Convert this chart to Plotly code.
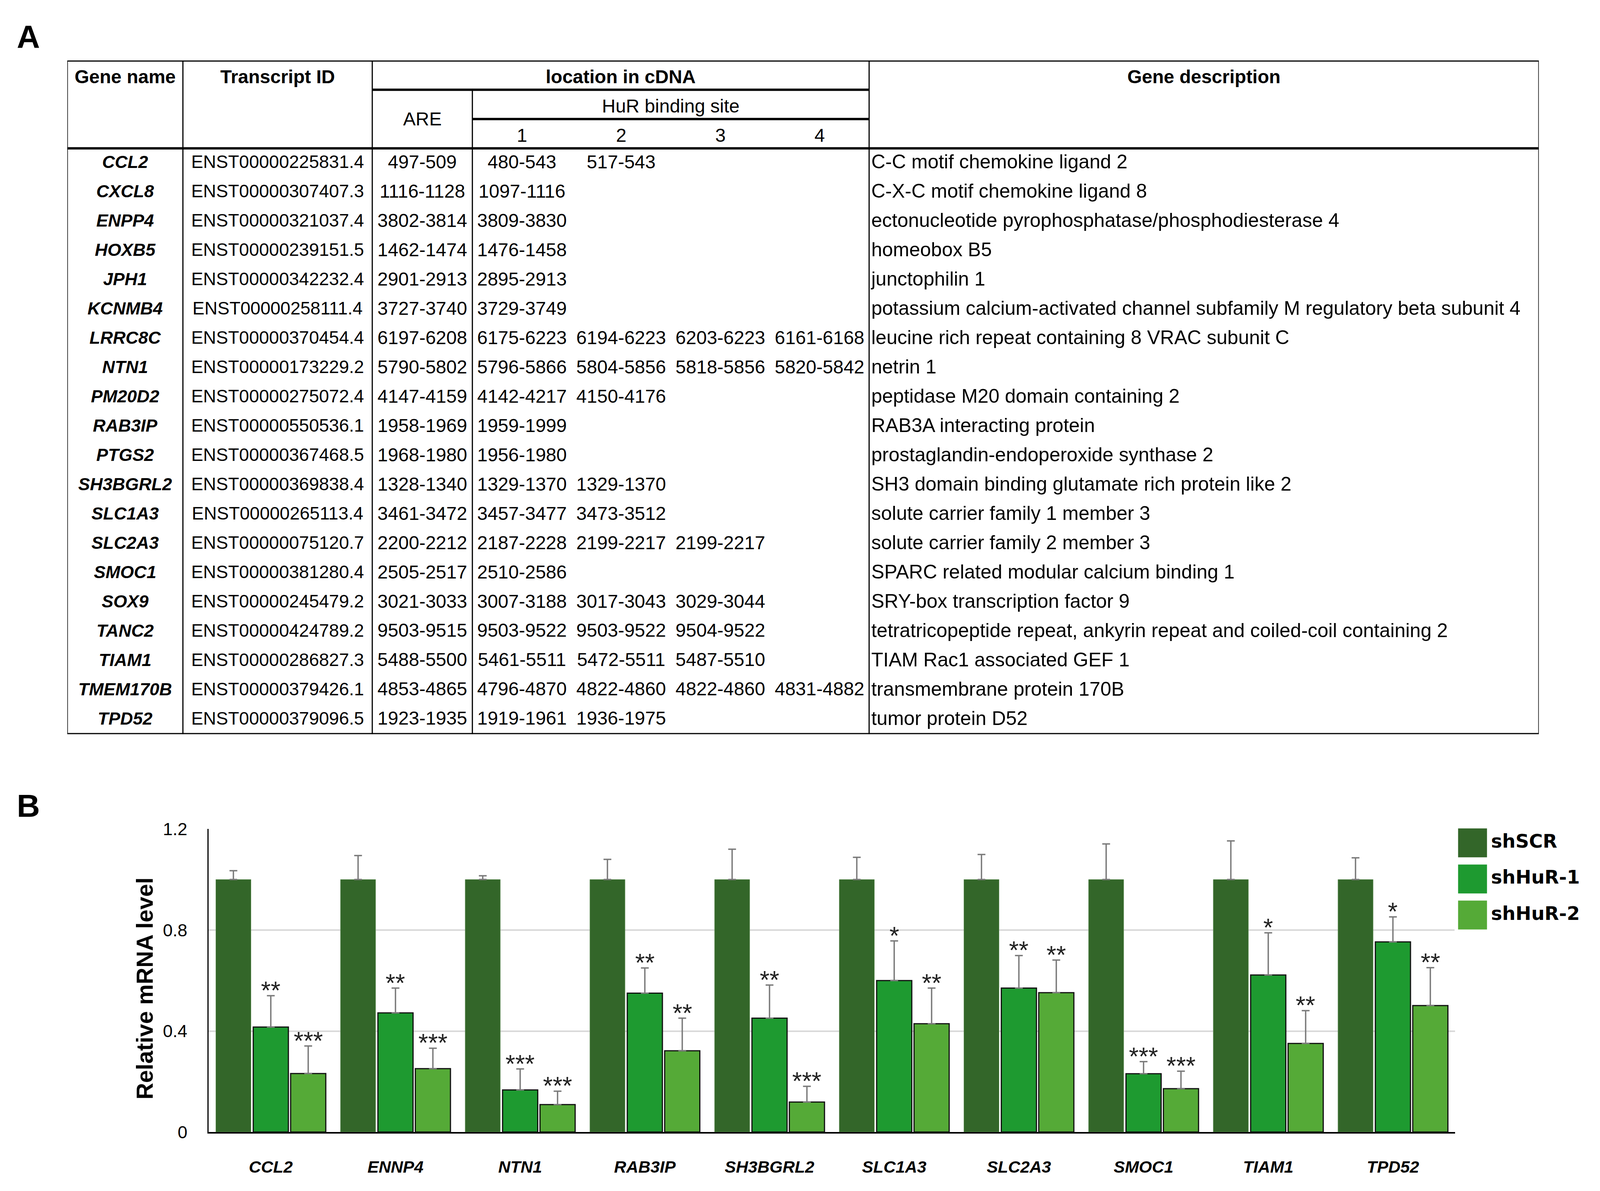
import plotly.graph_objects as go

# ---------------- Panel A : table data ----------------
TABLE_GENES = ["CCL2", "CXCL8", "ENPP4", "HOXB5", "JPH1", "KCNMB4", "LRRC8C", "NTN1",
               "PM20D2", "RAB3IP", "PTGS2", "SH3BGRL2", "SLC1A3", "SLC2A3", "SMOC1",
               "SOX9", "TANC2", "TIAM1", "TMEM170B", "TPD52"]
TRANSCRIPT_IDS = ["ENST00000225831.4", "ENST00000307407.3", "ENST00000321037.4",
                  "ENST00000239151.5", "ENST00000342232.4", "ENST00000258111.4",
                  "ENST00000370454.4", "ENST00000173229.2", "ENST00000275072.4",
                  "ENST00000550536.1", "ENST00000367468.5", "ENST00000369838.4",
                  "ENST00000265113.4", "ENST00000075120.7", "ENST00000381280.4",
                  "ENST00000245479.2", "ENST00000424789.2", "ENST00000286827.3",
                  "ENST00000379426.1", "ENST00000379096.5"]
ARE_SITES = ["497-509", "1116-1128", "3802-3814", "1462-1474", "2901-2913", "3727-3740",
             "6197-6208", "5790-5802", "4147-4159", "1958-1969", "1968-1980", "1328-1340",
             "3461-3472", "2200-2212", "2505-2517", "3021-3033", "9503-9515", "5488-5500",
             "4853-4865", "1923-1935"]
HUR_SITE_1 = ["480-543", "1097-1116", "3809-3830", "1476-1458", "2895-2913", "3729-3749",
              "6175-6223", "5796-5866", "4142-4217", "1959-1999", "1956-1980", "1329-1370",
              "3457-3477", "2187-2228", "2510-2586", "3007-3188", "9503-9522", "5461-5511",
              "4796-4870", "1919-1961"]
HUR_SITE_2 = ["517-543", "", "", "", "", "", "6194-6223", "5804-5856", "4150-4176", "", "",
              "1329-1370", "3473-3512", "2199-2217", "", "3017-3043", "9503-9522",
              "5472-5511", "4822-4860", "1936-1975"]
HUR_SITE_3 = ["", "", "", "", "", "", "6203-6223", "5818-5856", "", "", "", "", "",
              "2199-2217", "", "3029-3044", "9504-9522", "5487-5510", "4822-4860", ""]
HUR_SITE_4 = ["", "", "", "", "", "", "6161-6168", "5820-5842", "", "", "", "", "", "",
              "", "", "", "", "4831-4882", ""]
GENE_DESCRIPTIONS = [
    "C-C motif chemokine ligand 2",
    "C-X-C motif chemokine ligand 8",
    "ectonucleotide pyrophosphatase/phosphodiesterase 4",
    "homeobox B5",
    "junctophilin 1",
    "potassium calcium-activated channel subfamily M regulatory beta subunit 4",
    "leucine rich repeat containing 8 VRAC subunit C",
    "netrin 1",
    "peptidase M20 domain containing 2",
    "RAB3A interacting protein",
    "prostaglandin-endoperoxide synthase 2",
    "SH3 domain binding glutamate rich protein like 2",
    "solute carrier family 1 member 3",
    "solute carrier family 2 member 3",
    "SPARC related modular calcium binding 1",
    "SRY-box transcription factor 9",
    "tetratricopeptide repeat, ankyrin repeat and coiled-coil containing 2",
    "TIAM Rac1 associated GEF 1",
    "transmembrane protein 170B",
    "tumor protein D52",
]
HUR_SITE_LABELS = ["1", "2", "3", "4"]

# ---------------- Panel B : bar chart data ----------------
BAR_GENES = ["CCL2", "ENNP4", "NTN1", "RAB3IP", "SH3BGRL2", "SLC1A3", "SLC2A3",
             "SMOC1", "TIAM1", "TPD52"]
SERIES_NAMES = ["shSCR", "shHuR-1", "shHuR-2"]
SHSCR = [1.0, 1.0, 1.0, 1.0, 1.0, 1.0, 1.0, 1.0, 1.0, 1.0]
SHSCR_ERR = [0.035, 0.095, 0.015, 0.08, 0.12, 0.088, 0.099, 0.141, 0.153, 0.086]
SHHUR1 = [0.416, 0.472, 0.167, 0.55, 0.451, 0.60, 0.57, 0.231, 0.622, 0.753]
SHHUR1_ERR = [0.124, 0.098, 0.083, 0.10, 0.131, 0.157, 0.129, 0.048, 0.167, 0.099]
SHHUR2 = [0.232, 0.251, 0.109, 0.322, 0.119, 0.429, 0.552, 0.172, 0.351, 0.501]
SHHUR2_ERR = [0.109, 0.081, 0.053, 0.129, 0.062, 0.141, 0.129, 0.069, 0.13, 0.15]
SHHUR1_SIG = ["**", "**", "***", "**", "**", "*", "**", "***", "*", "*"]
SHHUR2_SIG = ["***", "***", "***", "**", "***", "**", "**", "***", "**", "**"]
SHSCR_SIG = [""] * 10
Y_TICKS = [0, 0.4, 0.8, 1.2]
Y_TICK_LABELS = ["0", "0.4", "0.8", "1.2"]

COLORS = ["#336629", "#1e9a30", "#55aa37"]

# the browser viewport is 4096 x 3049; positions below are measured on the
# 4444 x 3049 reference and used as paper fractions
REF_W, H = 4444, 3049
W = 4096
TXT = "Liberation Sans"

fig = go.Figure()

# ---------------- Table (axes x2 / y2) ----------------
COL_EDGES = [0, 321, 847, 1125, 2227, 4087]
N_HEAD = 3
N_ROWS = len(TABLE_GENES)
TOTAL_ROWS = N_HEAD + N_ROWS
sub_w = (COL_EDGES[4] - COL_EDGES[3]) / 4.0
row_y = [N_HEAD + i + 0.52 for i in range(N_ROWS)]

def col_center(a, b):
    return (COL_EDGES[a] + COL_EDGES[b]) / 2.0

def tf(size):
    return dict(family=TXT, size=size, color="black")

def text_col(x, texts, size, pos="middle center"):
    fig.add_trace(go.Scatter(x=[x] * N_ROWS, y=row_y, mode="text", text=texts,
                             textposition=pos, textfont=tf(size),
                             xaxis="x2", yaxis="y2", hoverinfo="skip"))

text_col(col_center(0, 1), ["<b><i>%s</i></b>" % g for g in TABLE_GENES], 45)
text_col(col_center(1, 2), TRANSCRIPT_IDS, 46)
text_col(col_center(2, 3), ARE_SITES, 48)
for k, site in enumerate([HUR_SITE_1, HUR_SITE_2, HUR_SITE_3, HUR_SITE_4]):
    text_col(COL_EDGES[3] + (k + 0.5) * sub_w, site, 48)
text_col(COL_EDGES[4] + 6, GENE_DESCRIPTIONS, 50, "middle right")

def head(x, y, t, size=48):
    fig.add_annotation(x=x, y=y, xref="x2", yref="y2", text=t, showarrow=False,
                       font=tf(size), xanchor="center", yanchor="middle")

head(col_center(0, 1), 0.55, "<b>Gene name</b>")
head(col_center(1, 2), 0.55, "<b>Transcript ID</b>")
head(col_center(2, 4), 0.55, "<b>location in cDNA</b>")
head(col_center(4, 5), 0.55, "<b>Gene description</b>")
head(col_center(2, 3), 2.0, "ARE")
head(col_center(3, 4), 1.55, "HuR binding site")
for k, lab in enumerate(HUR_SITE_LABELS):
    head(COL_EDGES[3] + (k + 0.5) * sub_w, 2.55, lab)

def hline(y, x0, x1, w=6):
    fig.add_shape(type="line", xref="x2", yref="y2", x0=x0, x1=x1, y0=y, y1=y,
                  line=dict(color="black", width=w))

def vline(x, y0, y1, w=3):
    fig.add_shape(type="line", xref="x2", yref="y2", x0=x, x1=x, y0=y0, y1=y1,
                  line=dict(color="black", width=w))

for i, xe in enumerate(COL_EDGES):
    vline(xe, 1 if i == 3 else 0, TOTAL_ROWS)
hline(0, COL_EDGES[0], COL_EDGES[-1])
hline(1, COL_EDGES[2], COL_EDGES[4])
hline(2, COL_EDGES[3], COL_EDGES[4])
hline(N_HEAD, COL_EDGES[0], COL_EDGES[-1])
hline(TOTAL_ROWS, COL_EDGES[0], COL_EDGES[-1])

# ---------------- Bar chart ----------------
idx = list(range(len(BAR_GENES)))
BAR_W = 0.282
PITCH = 0.30
offsets = [-PITCH, 0.0, PITCH]
series = [(SHSCR, SHSCR_ERR, SHSCR_SIG), (SHHUR1, SHHUR1_ERR, SHHUR1_SIG),
          (SHHUR2, SHHUR2_ERR, SHHUR2_SIG)]
for s, (vals, errs, sig) in enumerate(series):
    xs = [i + offsets[s] for i in idx]
    line = dict(color="#6f9a66", width=1) if s == 0 else dict(color="#111111", width=3)
    fig.add_trace(go.Bar(x=xs, y=vals, width=BAR_W, name=SERIES_NAMES[s],
                         marker=dict(color=COLORS[s], line=line),
                         error_y=dict(type="data", array=errs, arrayminus=[0] * len(errs),
                                      symmetric=False, color="#7a7a7a", thickness=3.5,
                                      width=10),
                         xaxis="x", yaxis="y"))
    for xi, v, e, t in zip(xs, vals, errs, sig):
        if t:
            fig.add_annotation(x=xi, y=v + e, xref="x", yref="y", text=t,
                               showarrow=False, xanchor="center", yanchor="middle",
                               yshift=13, font=dict(family=TXT, size=64, color="#222222"))

# ---------------- Custom legend (axes x3 / y3) ----------------
fig.add_trace(go.Scatter(x=[50, 50, 50], y=[0, 1, 2], mode="markers+text",
                         marker=dict(symbol="square", size=74, color=COLORS, line=dict(width=0)),
                         text=["<b>%s</b>" % n for n in SERIES_NAMES],
                         textposition="middle right",
                         textfont=dict(family="DejaVu Sans", size=48, color="black"),
                         xaxis="x3", yaxis="y3", hoverinfo="skip"))

hidden = dict(showgrid=False, showticklabels=False, zeroline=False, showline=False,
              ticks="", fixedrange=True)

fig.update_layout(
    width=W, height=H,
    margin=dict(l=0, r=0, t=0, b=0),
    paper_bgcolor="white", plot_bgcolor="white",
    showlegend=False, barmode="overlay",
    xaxis=dict(domain=[579 / REF_W, 4042 / REF_W], range=[-0.5, 9.5], tickvals=idx,
               ticktext=["<b><i>%s</i></b>" % g for g in BAR_GENES],
               tickfont=dict(family=TXT, size=43, color="black"),
               showgrid=False, zeroline=False, showline=True, linecolor="black",
               linewidth=4, ticks="", ticklabelstandoff=48, anchor="y"),
    yaxis=dict(domain=[1 - 2922 / H, 1 - 2133 / H], range=[0, 1.2], tickvals=Y_TICKS,
               ticktext=Y_TICK_LABELS, tickfont=dict(family=TXT, size=45, color="black"),
               showgrid=True, gridcolor="#d9d9d9", gridwidth=4, zeroline=False,
               showline=True, linecolor="black", linewidth=3, ticks="",
               ticklabelstandoff=42, anchor="x"),
    xaxis2=dict(domain=[187 / REF_W, 4274 / REF_W], range=[0, COL_EDGES[-1]], anchor="y2", **hidden),
    yaxis2=dict(domain=[1 - 1886 / H, 1 - 132 / H], range=[TOTAL_ROWS, 0], anchor="x2", **hidden),
    xaxis3=dict(domain=[4040 / REF_W, 1.0], range=[0, 404], anchor="y3", **hidden),
    yaxis3=dict(domain=[1 - 2404 / H, 1 - 2122 / H], range=[2.5, -0.5], anchor="x3", **hidden),
)

fig.add_annotation(x=79 / REF_W, y=1 - 70 / H, xref="paper", yref="paper", text="<b>A</b>",
                   showarrow=False, xanchor="center", yanchor="middle",
                   font=dict(family=TXT, size=82, color="black"))
fig.add_annotation(x=79 / REF_W, y=1 - 2072 / H, xref="paper", yref="paper", text="<b>B</b>",
                   showarrow=False, xanchor="center", yanchor="middle",
                   font=dict(family=TXT, size=82, color="black"))
fig.add_annotation(x=403 / REF_W, y=1 - 2548 / H, xref="paper", yref="paper",
                   text="<b>Relative mRNA level</b>", textangle=-90, showarrow=False,
                   xanchor="center", yanchor="middle",
                   font=dict(family=TXT, size=59, color="black"))

page_style = """
document.body.style.margin='0';
document.body.style.overflow='hidden';
document.documentElement.style.overflow='hidden';
"""
fig.write_html("out.html", post_script=page_style, config={"displayModeBar": False})
